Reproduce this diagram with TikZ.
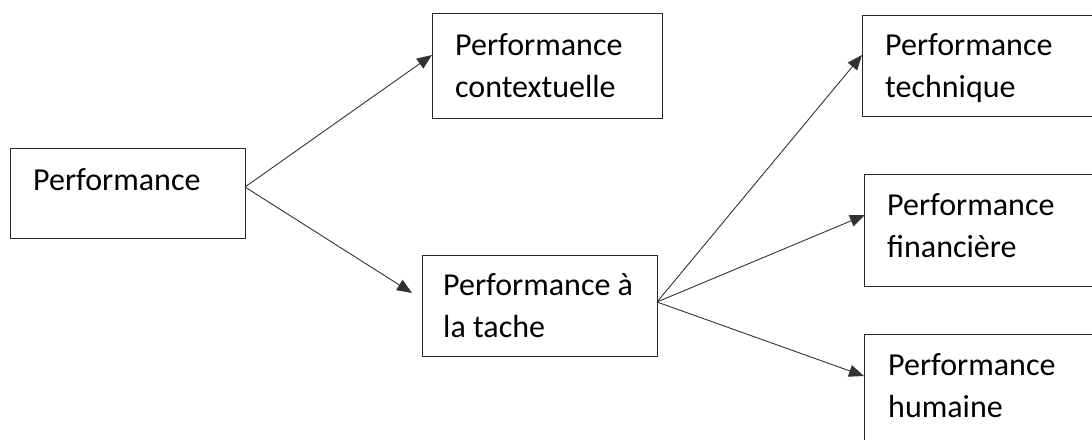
\documentclass[tikz,border=0pt]{standalone}
\usepackage{fontspec}
\setmainfont{Carlito}
\usetikzlibrary{arrows.meta}
\begin{document}
\begin{tikzpicture}[x=1pt,y=-1pt,
  box/.style={draw=black!85, line width=1pt, anchor=north west, inner sep=0pt},
  lbl/.style={anchor=base west, inner sep=0pt, align=left, font=\fontsize{32}{41.5}\selectfont},
  conn/.style={draw=black!80, line width=0.9pt, -{Triangle[length=15pt,width=12pt]}}]
\clip (0,0) rectangle (1092,439);
\fill[white] (0,0) rectangle (1092,439);
% boxes
\node[box, minimum width=235pt, minimum height=90pt]  (p)    at (10,148)  {};
\node[box, minimum width=230pt, minimum height=105pt] (ctx)  at (432,13)  {};
\node[box, minimum width=235pt, minimum height=101pt] (tache) at (422,255) {};
\node[box, minimum width=260pt, minimum height=101pt] (tech) at (862,15)  {};
\node[box, minimum width=260pt, minimum height=112pt] (fin)  at (864,174) {};
\node[box, minimum width=260pt, minimum height=140pt] (hum)  at (864,334) {};
% labels (anchor = baseline of last line)
\node[lbl] (tp)    at (33,190)  {Performance};
\node[lbl] (tctx)  at (455,97)  {Performance\\contextuelle};
\node[lbl] (ttache) at (443,337) {Performance à\\la tache};
\node[lbl] (ttech) at (885,97)  {Performance\\technique};
\node[lbl] (tfin)  at (887,257) {Performance\\financière};
\node[lbl] (thum)  at (888,417) {Performance\\humaine};
% connector ends
\coordinate (pout) at (245,187);
\coordinate (ctxin) at (432,55);
\coordinate (tachein) at (412,293);
\coordinate (tout) at (657,302);
\coordinate (techin) at (862,55);
\coordinate (finin) at (865,215);
\coordinate (humin) at (864,376);
% connectors
\draw[conn] (pout) -- (ctxin);
\draw[conn] (pout) -- (tachein);
\draw[conn] (tout) -- (techin);
\draw[conn] (tout) -- (finin);
\draw[conn] (tout) -- (humin);
\end{tikzpicture}
\end{document}
